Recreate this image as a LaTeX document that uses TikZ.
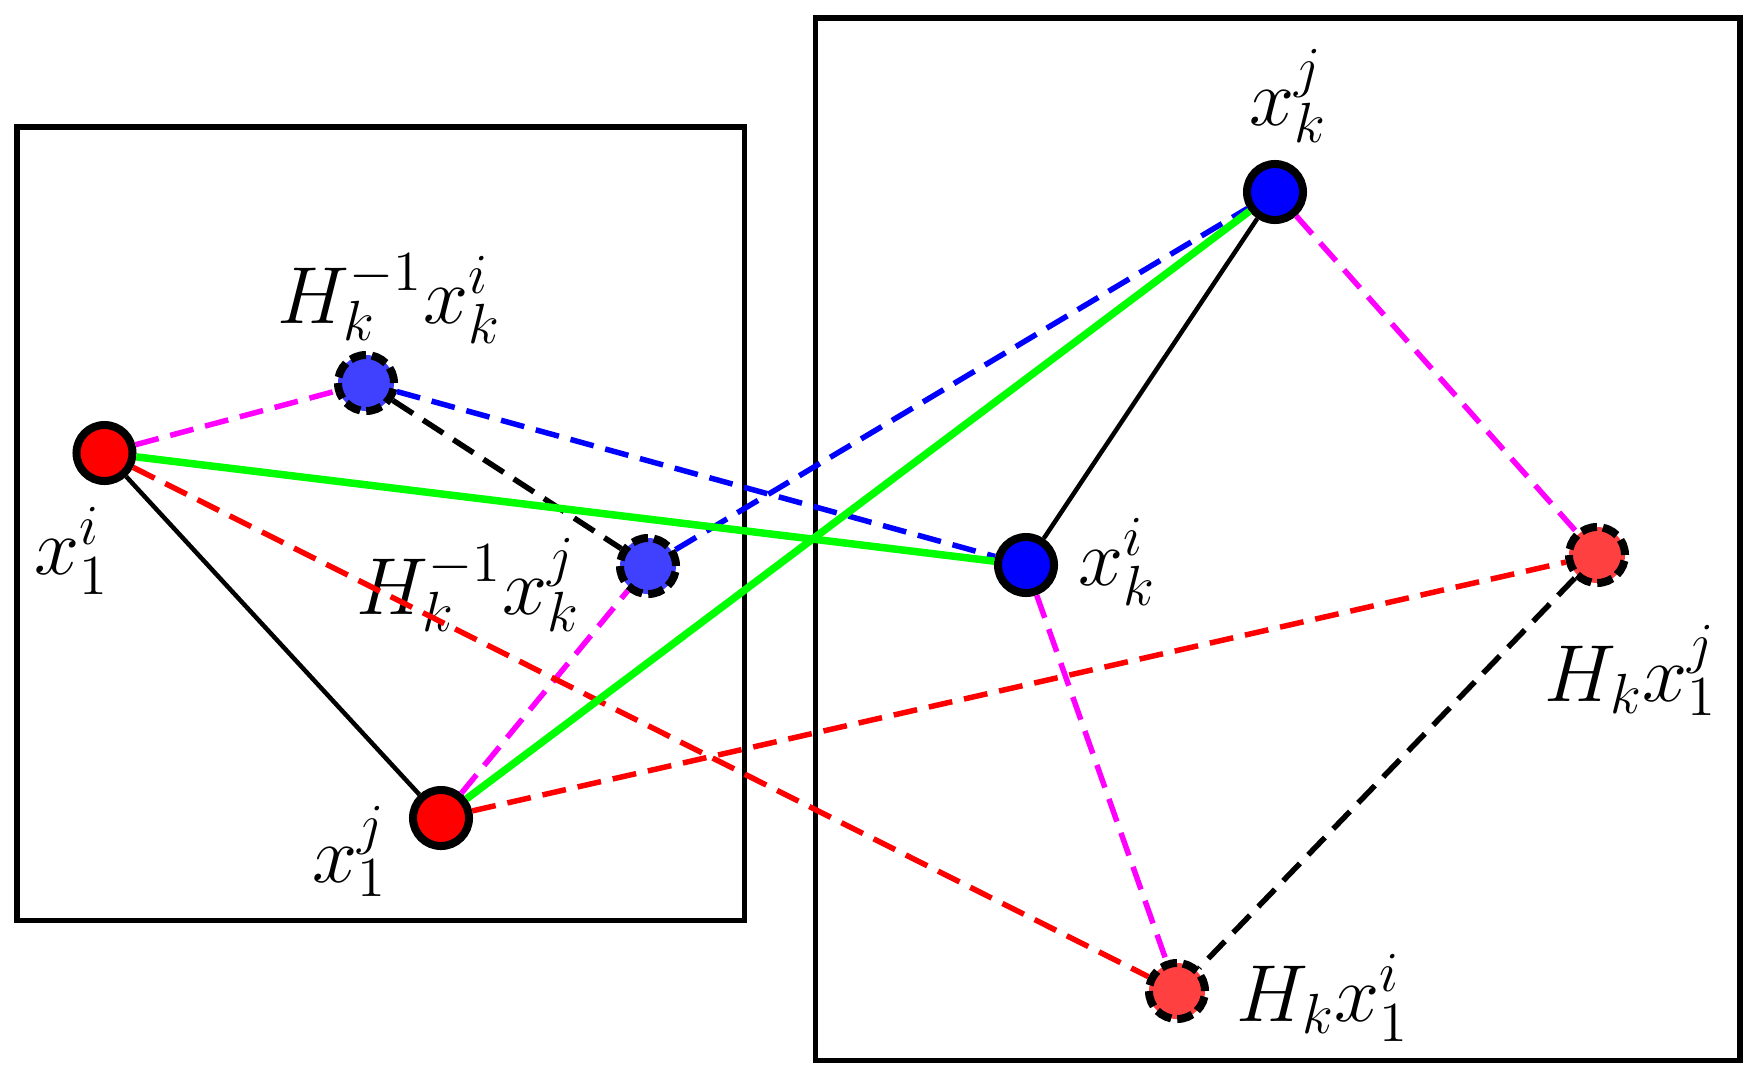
\documentclass[tikz,border=0pt]{standalone}
\usepackage{fix-cm}
\definecolor{lblue}{RGB}{64,64,255}
\definecolor{lred}{RGB}{255,64,64}
\definecolor{pgreen}{RGB}{0,255,0}
\definecolor{pmag}{RGB}{255,0,255}
\begin{document}
\begin{tikzpicture}[x=0.01cm,y=-0.01cm,
  pt/.style={circle,draw=black,line width=0.08cm,minimum size=0.56cm,inner sep=0pt},
  dashpt/.style={pt,dash pattern=on 0.16cm off 0.06cm},
  lbl/.style={font=\fontsize{23}{28}\selectfont,inner sep=0pt,anchor=base west},
  frame/.style={draw=black,line width=0.055cm},
  solidedge/.style={draw=black,line width=0.045cm},
  greenedge/.style={draw=pgreen,line width=0.075cm},
  dashedge/.style={line width=0.055cm,dash pattern=on 0.24cm off 0.12cm}
]
\useasboundingbox (0,0) rectangle (1757,1081);
\draw[frame] (17,127) rectangle (744.5,920.5);
\draw[frame] (815.5,18) rectangle (1740,1060.5);

% points
\node[pt,fill=red] (x1i) at (104.5,453) {};
\node[pt,fill=red] (x1j) at (441,818) {};
\node[dashpt,fill=lblue] (hki) at (366,383) {};
\node[dashpt,fill=lblue] (hkj) at (648,566) {};
\node[pt,fill=blue] (xkj) at (1275,192) {};
\node[pt,fill=blue] (xki) at (1026,565) {};
\node[dashpt,fill=lred] (h1j) at (1597,555) {};
\node[dashpt,fill=lred] (h1i) at (1177,991) {};

% labels
\node[lbl] (lhki) at (277,323) {$H_k^{-1}x_k^i$};
\node[lbl] (lx1i) at (34,574) {$x_1^i$};
\node[lbl] (lhkj) at (356,614) {$H_k^{-1}x_k^j$};
\node[lbl] (lx1j) at (311.5,882) {$x_1^j$};
\node[lbl] (lxkj) at (1249,125.5) {$x_k^j$};
\node[lbl] (lxki) at (1078,585) {$x_k^i$};
\node[lbl] (lh1j) at (1544,701) {$H_kx_1^j$};
\node[lbl] (lh1i) at (1236,1021) {$H_kx_1^i$};

% dashed connectors
\draw[dashedge,pmag] (x1i) -- (hki);
\draw[dashedge,pmag] (x1j) -- (hkj);
\draw[dashedge,pmag] (xkj) -- (h1j);
\draw[dashedge,pmag] (xki) -- (h1i);
\draw[dashedge,black] (hki) -- (hkj);
\draw[dashedge,black] (h1j) -- (h1i);
\draw[dashedge,blue] (hki) -- (xki);
\draw[dashedge,blue] (hkj) -- (xkj);
\draw[dashedge,red] (x1i) -- (h1i);
\draw[dashedge,red] (x1j) -- (h1j);
% solid connectors
\draw[solidedge] (x1i) -- (x1j);
\draw[solidedge] (xki) -- (xkj);
\draw[greenedge] (x1i) -- (xki);
\draw[greenedge] (x1j) -- (xkj);
\end{tikzpicture}
\end{document}
